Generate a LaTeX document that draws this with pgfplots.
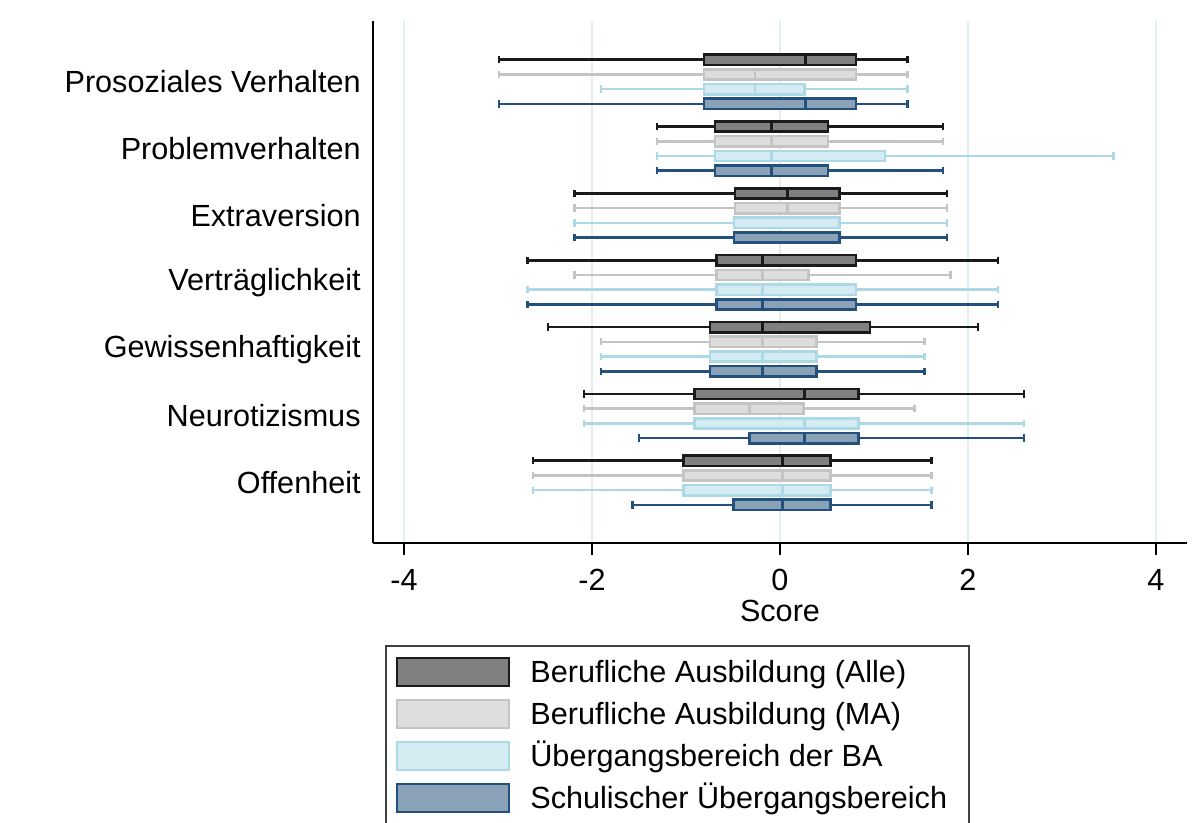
\documentclass[border=0pt]{standalone}
\usepackage{fontspec}
\setmainfont{Liberation Sans}
\usepackage{pgfplots}
\pgfplotsset{compat=1.18}
\usepgfplotslibrary{statistics}
\definecolor{alleF}{HTML}{808080}
\definecolor{alleD}{HTML}{1A1A1A}
\definecolor{maF}{HTML}{DDDDDD}
\definecolor{maD}{HTML}{C4C4C4}
\definecolor{baF}{HTML}{D4EBF2}
\definecolor{baD}{HTML}{ADD8E6}
\definecolor{schF}{HTML}{8AA2B8}
\definecolor{schD}{HTML}{23507C}
\definecolor{gridc}{HTML}{E2EEF2}
\tikzset{
  alle/.style={draw=alleD, fill=alleF, line width=1.3pt},
  ma/.style={draw=maD, fill=maF, line width=1.3pt},
  ba/.style={draw=baD, fill=baF, line width=1.3pt},
  sch/.style={draw=schD, fill=schF, line width=1.3pt},
}
\newcommand{\fs}{\fontsize{15.3}{18}\selectfont}
\begin{document}
\begin{tikzpicture}
\path[use as bounding box, clip] (-186.5pt,-140pt) rectangle (415.5pt,271.5pt);
\begin{axis}[
  scale only axis, width=407pt, height=261pt,
  xmin=-4.33, xmax=4.33, ymin=0.10, ymax=7.91,
  axis x line*=bottom, axis y line*=left,
  axis line style={line width=1pt, black},
  xtick={-4,-2,0,2,4},
  tick align=outside,
  major tick length=6pt,
  x tick style={line width=1pt, black},
  y tick style={draw=none},
  ytick={1,2,3,4,5,6,7},
  yticklabels={Offenheit,Neurotizismus,Gewissenhaftigkeit,Verträglichkeit,Extraversion,Problemverhalten,Prosoziales Verhalten},
  yticklabel style={font=\fs, inner sep=1pt, xshift=1pt},
  xticklabel style={font=\fs, yshift=-3.5pt},
  /pgf/number format/assume math mode=true,
  xlabel={Score},
  xlabel style={font=\fs, yshift=2pt},
  xmajorgrids=true,
  major grid style={draw=gridc, line width=0.8pt},
  boxplot/draw direction=x,
  boxplot/box extend=0.154,
  boxplot/whisker extend=0.11,
  legend image code/.code={\draw[#1] (0pt,-7pt) rectangle (56pt,7pt);},
  legend style={at={(0.01474,-0.1954)}, anchor=north west,
    draw=black!75, line width=0.8pt, font=\fs,
    inner xsep=5pt, inner ysep=5.5pt, row sep=5.7pt,
    nodes={text height=10.8pt, text depth=0pt},
    /tikz/every odd column/.append style={column sep=8pt}},
  legend cell align=left,
]
% Prosoziales Verhalten (7)
\addplot[alle, forget plot, boxplot prepared={draw position=7.33, lower whisker=-2.99, lower quartile=-0.807, median=0.273, upper quartile=0.807, upper whisker=1.357}] coordinates {};
\addplot[ma, forget plot, boxplot prepared={draw position=7.11, lower whisker=-2.99, lower quartile=-0.807, median=-0.267, upper quartile=0.807, upper whisker=1.357}] coordinates {};
\addplot[ba, forget plot, boxplot prepared={draw position=6.89, lower whisker=-1.903, lower quartile=-0.807, median=-0.267, upper quartile=0.261, upper whisker=1.357}] coordinates {};
\addplot[sch, forget plot, boxplot prepared={draw position=6.67, lower whisker=-2.99, lower quartile=-0.807, median=0.273, upper quartile=0.807, upper whisker=1.357}] coordinates {};
% Problemverhalten (6)
\addplot[alle, forget plot, boxplot prepared={draw position=6.33, lower whisker=-1.307, lower quartile=-0.690, median=-0.089, upper quartile=0.512, upper whisker=1.736}] coordinates {};
\addplot[ma, forget plot, boxplot prepared={draw position=6.11, lower whisker=-1.307, lower quartile=-0.690, median=-0.089, upper quartile=0.512, upper whisker=1.736}] coordinates {};
\addplot[ba, forget plot, boxplot prepared={draw position=5.89, lower whisker=-1.307, lower quartile=-0.690, median=-0.089, upper quartile=1.118, upper whisker=3.549}] coordinates {};
\addplot[sch, forget plot, boxplot prepared={draw position=5.67, lower whisker=-1.307, lower quartile=-0.690, median=-0.089, upper quartile=0.512, upper whisker=1.736}] coordinates {};
% Extraversion (5)
\addplot[alle, forget plot, boxplot prepared={draw position=5.33, lower whisker=-2.186, lower quartile=-0.478, median=0.078, upper quartile=0.634, upper whisker=1.775}] coordinates {};
\addplot[ma, forget plot, boxplot prepared={draw position=5.11, lower whisker=-2.186, lower quartile=-0.478, median=0.078, upper quartile=0.634, upper whisker=1.775}] coordinates {};
\addplot[ba, forget plot, boxplot prepared={draw position=4.89, lower whisker=-2.186, lower quartile=-0.490, median=-0.490, upper quartile=0.634, upper whisker=1.775}] coordinates {};
\addplot[sch, forget plot, boxplot prepared={draw position=4.67, lower whisker=-2.186, lower quartile=-0.490, median=-0.490, upper quartile=0.634, upper whisker=1.775}] coordinates {};
% Vertraeglichkeit (4)
\addplot[alle, forget plot, boxplot prepared={draw position=4.33, lower whisker=-2.687, lower quartile=-0.673, median=-0.184, upper quartile=0.807, upper whisker=2.320}] coordinates {};
\addplot[ma, forget plot, boxplot prepared={draw position=4.11, lower whisker=-2.186, lower quartile=-0.673, median=-0.184, upper quartile=0.306, upper whisker=1.814}] coordinates {};
\addplot[ba, forget plot, boxplot prepared={draw position=3.89, lower whisker=-2.687, lower quartile=-0.673, median=-0.184, upper quartile=0.807, upper whisker=2.320}] coordinates {};
\addplot[sch, forget plot, boxplot prepared={draw position=3.67, lower whisker=-2.687, lower quartile=-0.673, median=-0.184, upper quartile=0.807, upper whisker=2.320}] coordinates {};
% Gewissenhaftigkeit (3)
\addplot[alle, forget plot, boxplot prepared={draw position=3.33, lower whisker=-2.470, lower quartile=-0.745, median=-0.184, upper quartile=0.957, upper whisker=2.108}] coordinates {};
\addplot[ma, forget plot, boxplot prepared={draw position=3.11, lower whisker=-1.903, lower quartile=-0.745, median=-0.184, upper quartile=0.389, upper whisker=1.535}] coordinates {};
\addplot[ba, forget plot, boxplot prepared={draw position=2.89, lower whisker=-1.903, lower quartile=-0.745, median=-0.184, upper quartile=0.389, upper whisker=1.535}] coordinates {};
\addplot[sch, forget plot, boxplot prepared={draw position=2.67, lower whisker=-1.903, lower quartile=-0.745, median=-0.184, upper quartile=0.389, upper whisker=1.535}] coordinates {};
% Neurotizismus (2)
\addplot[alle, forget plot, boxplot prepared={draw position=2.33, lower whisker=-2.086, lower quartile=-0.907, median=0.261, upper quartile=0.834, upper whisker=2.598}] coordinates {};
\addplot[ma, forget plot, boxplot prepared={draw position=2.11, lower whisker=-2.086, lower quartile=-0.907, median=-0.323, upper quartile=0.250, upper whisker=1.430}] coordinates {};
\addplot[ba, forget plot, boxplot prepared={draw position=1.89, lower whisker=-2.086, lower quartile=-0.907, median=0.261, upper quartile=0.834, upper whisker=2.598}] coordinates {};
\addplot[sch, forget plot, boxplot prepared={draw position=1.67, lower whisker=-1.502, lower quartile=-0.323, median=0.261, upper quartile=0.834, upper whisker=2.598}] coordinates {};
% Offenheit (1)
\addplot[alle, forget plot, boxplot prepared={draw position=1.33, lower whisker=-2.626, lower quartile=-1.029, median=0.028, upper quartile=0.540, upper whisker=1.613}] coordinates {};
\addplot[ma, forget plot, boxplot prepared={draw position=1.11, lower whisker=-2.626, lower quartile=-1.029, median=0.028, upper quartile=0.540, upper whisker=1.613}] coordinates {};
\addplot[ba, forget plot, boxplot prepared={draw position=0.89, lower whisker=-2.626, lower quartile=-1.029, median=0.028, upper quartile=0.540, upper whisker=1.613}] coordinates {};
\addplot[sch, forget plot, boxplot prepared={draw position=0.67, lower whisker=-1.569, lower quartile=-0.495, median=0.028, upper quartile=0.540, upper whisker=1.613}] coordinates {};
\addlegendimage{alle}
\addlegendentry{Berufliche Ausbildung (Alle)}
\addlegendimage{ma}
\addlegendentry{Berufliche Ausbildung (MA)}
\addlegendimage{ba}
\addlegendentry{Übergangsbereich der BA}
\addlegendimage{sch}
\addlegendentry{Schulischer Übergangsbereich\hspace*{4pt}}
\end{axis}
\end{tikzpicture}
\end{document}
